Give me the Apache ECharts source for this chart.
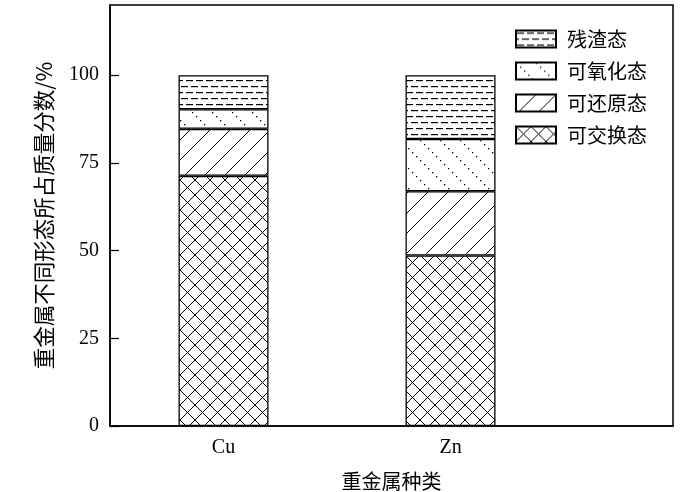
<!DOCTYPE html>
<html><head><meta charset="utf-8">
<script src="https://cdn.jsdelivr.net/npm/echarts@6/dist/echarts.min.js"></script>
<style>html,body{margin:0;padding:0;background:#fff}#c{width:700px;height:492px}</style>
</head><body><div id="c"></div>
<script>
const metals = ['Cu', 'Zn'];
const metalPos = [1, 2];
const exchangeable = [71.3, 48.6];   // 可交换态
const reducible = [13.4, 18.3];      // 可还原态
const oxidizable = [5.6, 14.9];      // 可氧化态
const residual = [9.7, 18.2];        // 残渣态
const yTicks = [0, 25, 50, 75, 100];

function mk(w, h, draw) {
  const c = document.createElement('canvas'); c.width = w; c.height = h;
  const g = c.getContext('2d'); g.fillStyle = '#fff'; g.fillRect(0, 0, w, h);
  g.strokeStyle = '#000'; g.fillStyle = '#000'; g.lineWidth = 1; draw(g, w, h); return c;
}
const crossPat = mk(15, 15, (g, w, h) => {
  g.beginPath();
  for (let k = -1; k <= 1; k++) {
    g.moveTo(k * w, 0); g.lineTo(k * w + w, h);
    g.moveTo(k * w, h); g.lineTo(k * w + w, 0);
  }
  g.stroke();
});
const slashPat = mk(20, 20, (g, w, h) => {
  g.beginPath();
  for (let k = -1; k <= 1; k++) { g.moveTo(k * w, h); g.lineTo(k * w + w, 0); }
  g.stroke();
});
const dotPat = mk(20, 20, (g, w, h) => {
  for (let i = 0; i < 5; i++) { g.fillRect(i * 4, i * 4, 1.3, 1.3); }
});
const dashPat = mk(20, 12, (g, w, h) => {
  g.fillRect(1, 2, 7, 1.2); g.fillRect(11, 2, 7, 1.2);
  g.fillRect(6, 8, 7, 1.2); g.fillRect(16, 8, 4, 1.2); g.fillRect(0, 8, 3, 1.2);
});
const pat = c => ({ image: c, repeat: 'repeat' });

const font = '"Liberation Serif","Times New Roman",serif';
const cjk = '"Noto Sans CJK SC",sans-serif';

function ser(name, vals, p) {
  return {
    name, type: 'bar', stack: 'a', barWidth: 90,
    data: vals.map((v, i) => [v, metalPos[i]]),
    encode: { x: 1, y: 0 },
    itemStyle: { color: pat(p), borderColor: '#000', borderWidth: 1.3 },
    emphasis: { disabled: true }
  };
}

const chart = echarts.init(document.getElementById('c'), null, { renderer: 'canvas' });
chart.setOption({
  animation: false,
  backgroundColor: '#fff',
  grid: { left: 110, right: 27, top: 5, bottom: 66, containLabel: false, outerBoundsMode: 'none',
    show: true, borderColor: '#000', borderWidth: 1.5 },
  legend: {
    orient: 'vertical', right: 48, top: 24, itemWidth: 40, itemHeight: 17, itemGap: 12,
    icon: 'rect',
    data: ['残渣态', '可氧化态', '可还原态', '可交换态'],
    textStyle: { fontFamily: cjk, fontSize: 20, color: '#000', padding: [0, 0, 0, 6] },
    selectedMode: false
  },
  xAxis: {
    type: 'value', min: 0.5, max: 2.98,
    name: '重金属种类', nameLocation: 'middle', nameGap: 45,
    nameTextStyle: { fontFamily: cjk, fontSize: 20, color: '#000' },
    axisLine: { lineStyle: { color: '#000', width: 1.5 } },
    axisTick: { inside: true, length: 7, customValues: metalPos, lineStyle: { color: '#000', width: 1.2 } },
    axisLabel: { customValues: metalPos, formatter: v => metals[metalPos.indexOf(v)] || '',
      fontFamily: font, fontSize: 20, color: '#000', margin: 12 },
    splitLine: { show: false }
  },
  yAxis: {
    type: 'value', min: 0, max: 120, interval: 25,
    name: '重金属不同形态所占质量分数/%', nameLocation: 'middle', nameGap: 55,
    nameTextStyle: { fontFamily: cjk, fontSize: 21.5, color: '#000' },
    axisLine: { lineStyle: { color: '#000', width: 1.5 } },
    axisTick: { inside: true, length: 9, lineStyle: { color: '#000', width: 1.2 } },
    axisLabel: { showMaxLabel: false, fontFamily: font, fontSize: 20, color: '#000', margin: 11,
      formatter: v => yTicks.includes(v) ? String(v) : '' },
    splitLine: { show: false }
  },
  series: [
    ser('可交换态', exchangeable, crossPat),
    ser('可还原态', reducible, slashPat),
    ser('可氧化态', oxidizable, dotPat),
    ser('残渣态', residual, dashPat)
  ]
});
</script></body></html>
